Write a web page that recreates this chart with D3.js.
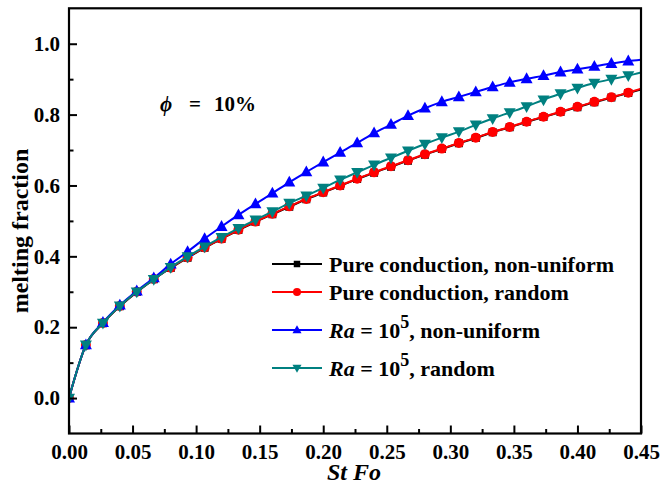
<!DOCTYPE html>
<html>
<head>
<meta charset="utf-8">
<script src="https://cdn.jsdelivr.net/npm/d3@7"></script>
<style>
  html, body { margin: 0; padding: 0; background: #fff; }
  svg { display: block; }
  text { font-family: "Liberation Serif", "Times New Roman", serif; font-weight: bold; }
</style>
</head>
<body>
<svg id="chart" width="662" height="487"></svg>
<script>
// ---- data ----
const stFo = [0.0000,0.0133,0.0267,0.0400,0.0533,0.0667,0.0800,0.0933,0.1067,0.1200,
              0.1333,0.1467,0.1600,0.1733,0.1867,0.2000,0.2133,0.2267,0.2400,0.2533,
              0.2667,0.2800,0.2933,0.3067,0.3200,0.3333,0.3467,0.3600,0.3733,0.3867,
              0.4000,0.4133,0.4267,0.4400,0.4500];
const condNonUniform = [0,0.149,0.211,0.259,0.299,0.335,0.367,0.396,0.424,0.449,
                        0.474,0.497,0.519,0.540,0.561,0.580,0.599,0.618,0.636,0.653,
                        0.670,0.687,0.703,0.719,0.734,0.750,0.764,0.779,0.793,0.807,
                        0.821,0.835,0.848,0.861,0.871];
const condRandom = [0,0.150,0.212,0.260,0.300,0.336,0.368,0.397,0.425,0.450,
                    0.475,0.498,0.520,0.541,0.562,0.581,0.600,0.619,0.637,0.654,
                    0.671,0.688,0.704,0.720,0.735,0.751,0.765,0.780,0.794,0.808,
                    0.822,0.836,0.849,0.862,0.873];
const raNonUniform = [0,0.150,0.213,0.262,0.302,0.339,0.378,0.413,0.450,0.484,
                      0.517,0.548,0.578,0.609,0.638,0.666,0.693,0.720,0.748,0.772,
                      0.797,0.818,0.836,0.850,0.864,0.878,0.891,0.901,0.910,0.920,
                      0.928,0.936,0.944,0.951,0.955];
const raRandom = [0,0.150,0.212,0.260,0.300,0.335,0.369,0.399,0.427,0.454,
                  0.479,0.503,0.526,0.550,0.571,0.593,0.616,0.637,0.658,0.678,
                  0.698,0.717,0.735,0.752,0.771,0.789,0.806,0.823,0.842,0.859,
                  0.875,0.889,0.900,0.910,0.919];
const markerCount = 34; // markers on the first 34 points; last point only ends the line

const xTicks = [0.00,0.05,0.10,0.15,0.20,0.25,0.30,0.35,0.40,0.45];
const yTicks = [0.0,0.2,0.4,0.6,0.8,1.0];
const xMinorTicks = [0.025,0.075,0.125,0.175,0.225,0.275,0.325,0.375,0.425];
const yMinorTicks = [0.1,0.3,0.5,0.7,0.9];

const series = [
  {name: "cn", values: condNonUniform, color: "#000000", marker: "square"},
  {name: "cr", values: condRandom,     color: "#ff0000", marker: "circle"},
  {name: "rn", values: raNonUniform,   color: "#0000ff", marker: "triUp"},
  {name: "rr", values: raRandom,       color: "#008080", marker: "triDown"}
];

// ---- layout ----
const svg = d3.select("#chart");
const L = 69, R = 641, T = 8.3, B = 433.5;
const x = d3.scaleLinear().domain([0, 0.45]).range([L, R]);
const y = d3.scaleLinear().domain([-0.1, 1.1]).range([B, T]);

const plot = svg.append("g");
svg.append("defs").append("clipPath").attr("id", "clip")
  .append("rect").attr("x", L).attr("y", T).attr("width", R - L).attr("height", B - T);

// axes ticks (inward)
const fmt2 = d3.format(".2f"), fmt1 = d3.format(".1f");
const xAxis = svg.append("g").attr("transform", `translate(0,${B})`)
  .call(d3.axisBottom(x).tickValues(xTicks).tickSize(-8).tickFormat(fmt2).tickPadding(18));
const xMinor = svg.append("g").attr("transform", `translate(0,${B})`)
  .call(d3.axisBottom(x).tickValues(xMinorTicks).tickSize(-4.5).tickFormat(""));
const yAxis = svg.append("g").attr("transform", `translate(${L},0)`)
  .call(d3.axisLeft(y).tickValues(yTicks).tickSize(-8).tickFormat(fmt1).tickPadding(18));
const yMinor = svg.append("g").attr("transform", `translate(${L},0)`)
  .call(d3.axisLeft(y).tickValues(yMinorTicks).tickSize(-4.5).tickFormat(""));

[xAxis, xMinor, yAxis, yMinor].forEach(g => {
  g.attr("font-family", "Liberation Serif");
  g.select(".domain").remove();
  g.selectAll(".tick line").attr("stroke", "#000").attr("stroke-width", 2);
  g.selectAll(".tick text").attr("fill", "#000").attr("font-size", 21)
    .attr("font-family", "Liberation Serif").attr("font-weight", "bold");
});
xAxis.selectAll(".tick text").attr("dy", "0.71em").attr("y", 11);
yAxis.selectAll(".tick text").attr("x", -9);

// frame
svg.append("rect").attr("x", L).attr("y", T).attr("width", R - L).attr("height", B - T)
  .attr("fill", "none").attr("stroke", "#000").attr("stroke-width", 2.2);

// symbols
function markerPath(type, size) {
  const s = size;
  if (type === "square") return `M${-s/2},${-s/2}h${s}v${s}h${-s}Z`;
  if (type === "circle") return d3.symbol(d3.symbolCircle, Math.PI * (s/2) * (s/2))();
  const h = s * 0.9;
  if (type === "triUp") return `M0,${-h*0.6}L${s/2},${h*0.4}L${-s/2},${h*0.4}Z`;
  return `M0,${h*0.6}L${s/2},${-h*0.4}L${-s/2},${-h*0.4}Z`;
}

const line = d3.line().x(d => x(d[0])).y(d => y(d[1])).curve(d3.curveMonotoneX);
const sizes = {square: 8, circle: 10, triUp: 12, triDown: 12};

series.forEach(s => {
  const pts = stFo.map((v, i) => [v, s.values[i]]);
  const g = plot.append("g").attr("clip-path", "url(#clip)");
  g.append("path").attr("d", line(pts)).attr("fill", "none")
    .attr("stroke", s.color).attr("stroke-width", 2);
  g.selectAll("path.m").data(pts.slice(0, markerCount)).join("path").attr("class", "m")
    .attr("transform", d => `translate(${x(d[0])},${y(d[1])})`)
    .attr("d", markerPath(s.marker, sizes[s.marker]))
    .attr("fill", s.color);
});

// axis titles
svg.append("text").attr("x", 354).attr("y", 480).attr("text-anchor", "middle")
  .attr("font-size", 24).attr("font-style", "italic").text("St Fo");
svg.append("text").attr("transform", `translate(28,231) rotate(-90)`).attr("text-anchor", "middle")
  .attr("font-size", 24).text("melting fraction");

// phi annotation
const phi = svg.append("text").attr("x", 160).attr("y", 111).attr("font-size", 21);
phi.append("tspan").attr("font-style", "italic").text("\u03d5");
phi.append("tspan").attr("x", 189).text("=");
phi.append("tspan").attr("x", 214).text("10%");

// legend
const legendRows = [
  {s: series[0], y: 264, parts: [{t: "Pure conduction, non-uniform"}]},
  {s: series[1], y: 292, parts: [{t: "Pure conduction, random"}]},
  {s: series[2], y: 330, parts: [{t: "Ra", i: true}, {t: " = 10"}, {t: "5", sup: true}, {t: ", non-uniform"}]},
  {s: series[3], y: 368, parts: [{t: "Ra", i: true}, {t: " = 10"}, {t: "5", sup: true}, {t: ", random"}]}
];
const lsize = {square: 6.5, circle: 8, triUp: 9, triDown: 9};
legendRows.forEach(r => {
  const g = svg.append("g");
  g.append("line").attr("x1", 272).attr("x2", 322).attr("y1", r.y).attr("y2", r.y)
    .attr("stroke", r.s.color).attr("stroke-width", 2.2);
  g.append("path").attr("transform", `translate(297,${r.y})`)
    .attr("d", markerPath(r.s.marker, lsize[r.s.marker])).attr("fill", r.s.color);
  const t = g.append("text").attr("x", 329).attr("y", r.y + 7.5).attr("font-size", 22);
  r.parts.forEach((p, i) => {
    const sp = t.append("tspan").text(p.t);
    if (p.i) sp.attr("font-style", "italic");
    if (p.sup) sp.attr("font-size", 18).attr("dy", -10);
    if (i > 0 && r.parts[i - 1].sup) sp.attr("dy", 10);
  });
});
</script>
</body>
</html>
